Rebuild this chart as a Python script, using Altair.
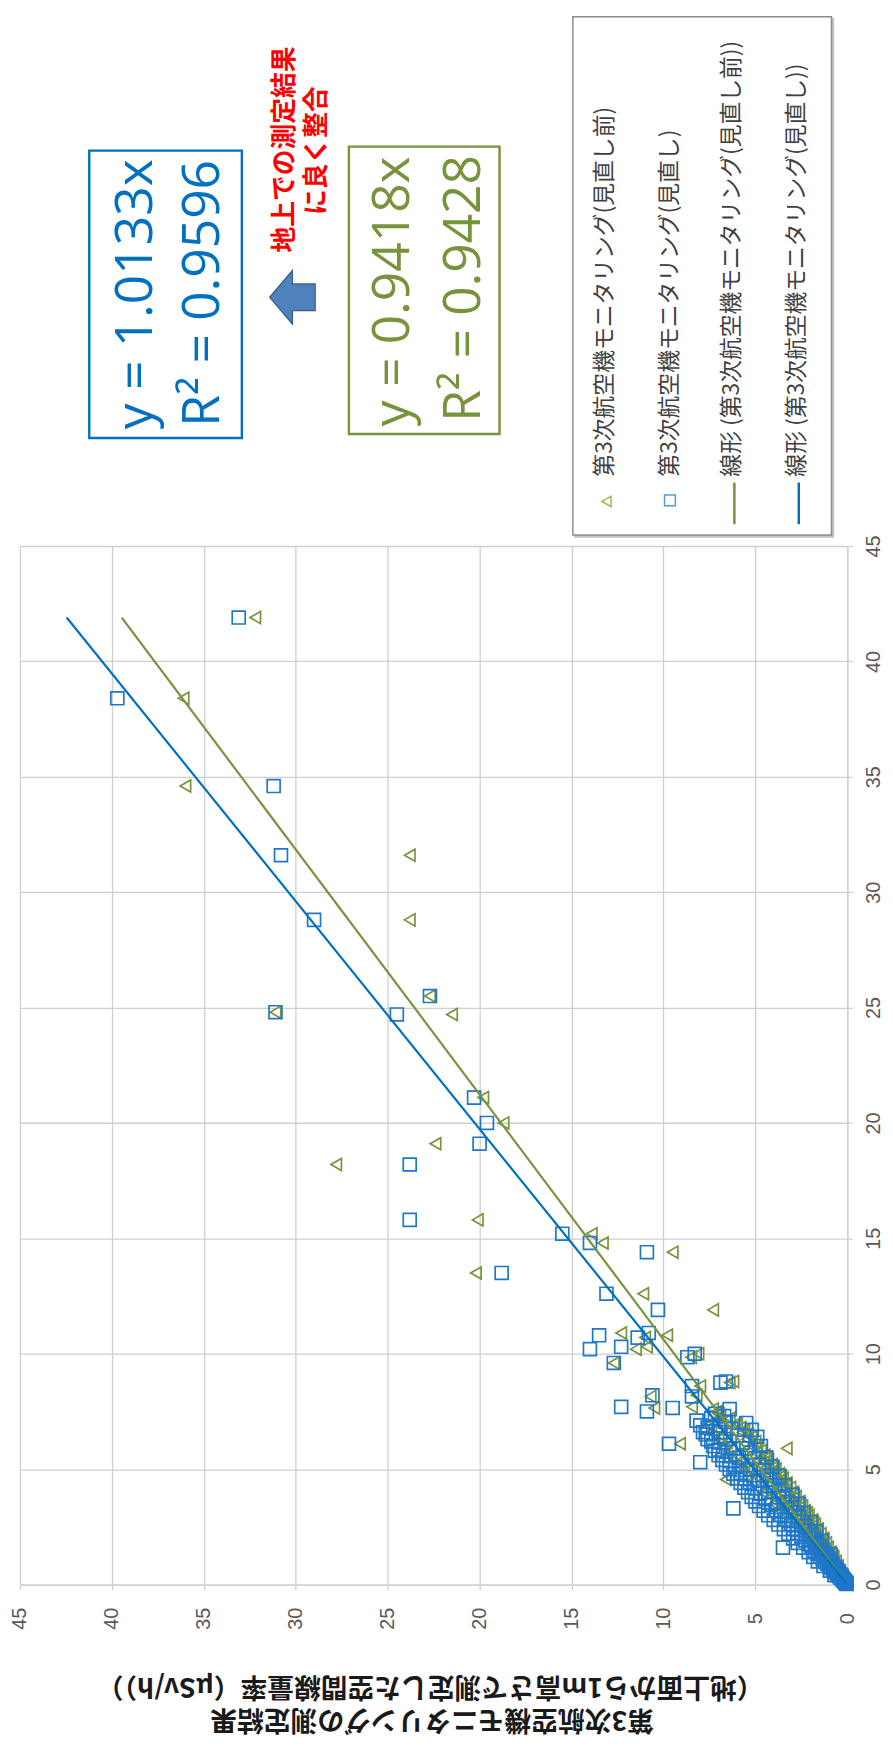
import altair as alt
import pandas as pd

# ---------------- data ----------------
# ground value (vertical scale, 0 at bottom) and aerial value (horizontal, 0 at right)
ground = [
    41.9, 38.4, 34.6, 31.6, 28.8, 25.5, 24.8, 24.7, 21.1, 20.0, 19.1, 18.2, 15.8,
    15.2, 14.8, 14.4, 13.5, 12.6, 11.9, 10.9, 10.8, 10.7, 10.3, 10.2, 10.0, 9.85,
    9.6, 8.8, 8.75, 8.6, 8.2, 8.15, 7.7, 7.65, 7.5,
    0.03, 0.05, 0.07, 0.09, 0.11, 0.13, 0.15, 0.17, 0.19, 0.21, 0.24, 0.27, 0.30,
    0.33, 0.36, 0.39, 0.42, 0.45, 0.48, 0.52, 0.56, 0.60, 0.64, 0.68, 0.72, 0.76,
    0.80, 0.85, 0.90, 0.95, 1.00, 1.05, 1.10, 1.16, 1.22, 1.28, 1.34, 1.40, 1.46,
    1.52, 1.60, 1.62, 1.68, 1.75, 1.82, 1.90, 1.98, 2.06, 2.15, 2.24, 2.33, 2.42,
    2.52, 2.62, 2.72, 2.82, 2.92, 3.02, 3.12, 3.22, 3.30, 3.34, 3.46, 3.58, 3.70,
    3.82, 3.94, 4.06, 4.18, 4.30, 4.42, 4.55, 4.60, 4.72, 4.84, 4.96, 5.08, 5.20,
    5.30, 5.36, 5.48, 5.60, 5.72, 5.85, 5.90, 6.00, 6.10, 6.15, 6.30, 6.45, 6.60,
    6.75, 6.90, 7.05, 7.20,
    0.4, 0.6, 0.8, 1.0, 1.2, 1.3, 1.4, 1.6, 1.8, 1.9, 2.0, 2.2, 2.3, 2.4, 2.6,
    2.7, 2.8, 3.0, 3.1, 3.2, 3.4, 3.5, 3.6, 3.8, 3.9, 4.0, 4.2, 4.3, 4.4, 4.6,
    4.7, 4.8, 5.0, 5.1, 5.2, 5.4, 5.5, 5.6, 5.8, 6.0, 6.2, 6.4, 6.5, 6.7, 6.8,
    7.0, 6.9, 6.6, 6.3, 5.9, 5.5, 5.0, 4.5, 4.0, 3.5, 7.3, 7.4, 7.6, 7.1,
]
aerial_revised = [
    33.1, 39.7, 31.2, 30.8, 29.0, 22.7, 31.1, 24.5, 20.3, 19.6, 20.0, 23.8, 23.8,
    15.5, 14.0, 10.9, 18.8, 13.1, 10.3, 10.8, 13.5, 11.4, 12.3, 14.0, 8.3, 8.7,
    12.7, 6.6, 6.9, 8.45, 10.6, 8.45, 12.3, 9.5, 10.9,
    0.04, 0.07, 0.06, 0.11, 0.13, 0.12, 0.19, 0.16, 0.24, 0.20, 0.29, 0.25, 0.37,
    0.30, 0.44, 0.36, 0.51, 0.40, 0.58, 0.47, 0.68, 0.55, 0.77, 0.62, 0.87, 0.70,
    0.98, 0.78, 1.10, 0.86, 1.22, 0.95, 1.34, 1.05, 1.48, 1.15, 1.62, 1.27, 1.77,
    1.38, 3.50, 1.95, 1.52, 2.10, 1.66, 2.28, 1.80, 2.50, 1.96, 2.72, 2.12, 2.95,
    2.30, 3.18, 2.48, 3.42, 2.66, 3.65, 2.85, 3.90, 6.20, 3.05, 4.15, 3.28, 4.45,
    3.50, 4.75, 3.72, 5.05, 3.95, 5.30, 4.20, 5.55, 4.35, 5.80, 4.55, 6.10, 4.80,
    8.00, 6.40, 5.05, 6.75, 5.30, 7.00, 5.50, 7.30, 9.70, 5.70, 7.60, 6.00, 7.85,
    6.30, 8.00, 6.60, 7.40,
    0.70, 0.95, 1.30, 1.60, 1.85, 0.90, 2.10, 2.40, 2.70, 1.40, 2.95, 3.20, 1.70,
    3.45, 3.75, 2.00, 4.00, 4.30, 2.40, 4.55, 4.80, 2.70, 5.00, 5.20, 3.00, 5.40,
    5.60, 3.40, 5.80, 6.00, 3.70, 6.20, 6.40, 4.10, 6.60, 6.80, 4.40, 7.00, 7.20,
    4.70, 7.40, 4.90, 7.70, 5.20, 7.60, 5.50, 7.00, 6.90, 6.60, 6.20, 5.90, 5.30,
    4.80, 4.30, 3.80, 6.70, 7.20, 6.40, 8.20,
]
aerial_before = [
    32.2, 36.1, 36.0, 23.8, 23.8, 22.7, 31.1, 21.5, 19.8, 18.7, 22.4, 27.8, 20.1,
    13.9, 13.3, 9.5, 20.2, 11.1, 7.3, 12.3, 9.8, 11.0, 10.9, 11.5, 8.1, 8.5,
    12.7, 6.2, 6.4, 8.0, 8.2, 10.7, 8.45, 10.5, 7.1,
    0.03, 0.04, 0.06, 0.08, 0.09, 0.12, 0.13, 0.15, 0.17, 0.22, 0.20, 0.27, 0.26,
    0.33, 0.31, 0.40, 0.36, 0.47, 0.41, 0.55, 0.48, 0.63, 0.55, 0.71, 0.62, 0.79,
    0.69, 0.90, 0.77, 1.02, 0.85, 1.12, 0.94, 1.24, 1.04, 1.38, 1.14, 1.50, 1.24,
    1.62, 1.36, 1.75, 1.44, 1.88, 1.55, 2.05, 1.68, 2.20, 1.85, 2.40, 2.00, 2.60,
    2.15, 2.82, 2.30, 3.05, 2.50, 3.25, 2.65, 3.45, 2.85, 3.60, 2.95, 3.85, 3.15,
    4.10, 3.40, 4.35, 3.60, 4.60, 3.80, 6.60, 4.00, 5.05, 4.15, 5.35, 4.40, 5.60,
    4.55, 5.80, 4.75, 6.05, 4.95, 6.30, 3.30, 5.20, 9.10, 6.55, 5.45, 6.85, 5.70,
    7.10, 6.00, 7.30, 6.40,
    0.25, 0.40, 0.50, 0.62, 0.75, 1.00, 0.90, 1.05, 1.15, 1.30, 1.30, 1.45, 1.60,
    1.60, 1.75, 1.85, 1.90, 2.10, 2.20, 2.30, 2.45, 2.55, 2.60, 2.80, 2.90, 2.95,
    3.10, 3.30, 3.30, 3.50, 3.60, 3.70, 3.90, 4.00, 4.10, 4.30, 4.40, 4.50, 4.70,
    4.90, 5.00, 5.20, 5.40, 5.60, 5.80, 6.00, 7.60, 7.40, 7.00, 6.70, 6.30, 5.80,
    5.20, 4.60, 4.00, 6.90, 7.00, 7.30, 6.60,
]
series_names = ["第3次航空機モニタリング(見直し前)", "第3次航空機モニタリング(見直し)"]
slope_before = 0.9418
slope_revised = 1.0133
r2_before = 0.9428
r2_revised = 0.9596
trend_ground = [0.0, max(ground)]
tick_values = list(range(0, 46, 5))

GREEN = "#77933C"
BLUE = "#0070C0"
GRID = "#CFCFCF"

pts = pd.DataFrame({
    "ground": ground * 2,
    "aerial": aerial_before + aerial_revised,
    "series": [series_names[0]] * len(ground) + [series_names[1]] * len(ground),
})
trend = pd.DataFrame({
    "ground": trend_ground * 2,
    "aerial": [g * slope_before for g in trend_ground] + [g * slope_revised for g in trend_ground],
    "series": ["before"] * 2 + ["revised"] * 2,
})

LABEL_FONT = "Liberation Sans Narrow, Liberation Sans, sans-serif"
xscale = alt.Scale(domain=[0, 45], reverse=True, nice=False, zero=False)
yscale = alt.Scale(domain=[0, 45], nice=False, zero=False)
common_axis = dict(values=tick_values, grid=True, gridColor=GRID, gridWidth=1.3,
                   domainColor=GRID, domainWidth=1.3, tickColor=GRID, tickWidth=1.3,
                   tickSize=5, labelAngle=270, labelAlign="center", labelBaseline="middle",
                   labelFontSize=20, labelColor="#595959", labelFont=LABEL_FONT,
                   labelOverlap=False)
X = alt.X("aerial:Q", scale=xscale, title=None,
          axis=alt.Axis(orient="bottom", labelPadding=29, **common_axis))
Y = alt.Y("ground:Q", scale=yscale, title=None,
          axis=alt.Axis(orient="right", labelPadding=21, **common_axis))

tri = alt.Chart(pts).transform_filter(alt.datum.series == series_names[0]).mark_point(
    shape="triangle-left", filled=False, size=150, strokeWidth=1.7, color=GREEN, opacity=1
).encode(x=X, y=Y)
sq = alt.Chart(pts).transform_filter(alt.datum.series == series_names[1]).mark_point(
    shape="square", filled=False, size=170, strokeWidth=1.7, color="#1F77C9", opacity=1
).encode(x=X, y=Y)
line_b = alt.Chart(trend).transform_filter(alt.datum.series == "before").mark_line(
    color=GREEN, strokeWidth=2.2).encode(x=X, y=Y)
line_r = alt.Chart(trend).transform_filter(alt.datum.series == "revised").mark_line(
    color=BLUE, strokeWidth=2.2).encode(x=X, y=Y)

one = pd.DataFrame({"k": [0]})
OX = 20   # page x of the plot's left edge
OY = 543  # page y of the plot's top edge


def rect(x, x2, y, y2, stroke, width=2.2, fill="white"):
    return alt.Chart(one).mark_rect(fill=fill, stroke=stroke, strokeWidth=width).encode(
        x=alt.value(x - OX), x2=alt.value(x2 - OX), y=alt.value(y - OY), y2=alt.value(y2 - OY))


def text(x, y, s, size, color, angle=270, align="center", weight="normal",
         font="Open Sans, Noto Sans CJK JP, sans-serif"):
    return alt.Chart(one).mark_text(angle=angle, align=align, baseline="middle",
                                    fontSize=size, color=color, fontWeight=weight,
                                    font=font).encode(
        x=alt.value(x - OX), y=alt.value(y - OY), text=alt.value(s))


def sym(x, y, shape, size, color, filled=False, **kw):
    return alt.Chart(one).mark_point(shape=shape, filled=filled, size=size, opacity=1,
                                     color=color, **kw).encode(
        x=alt.value(x - OX), y=alt.value(y - OY))


def vrule(x, y, y2, color):
    return alt.Chart(one).mark_rule(color=color, strokeWidth=2.5).encode(
        x=alt.value(x - OX), y=alt.value(y - OY), y2=alt.value(y2 - OY))


JP = "Noto Sans CJK JP, sans-serif"
annot = [
    # equation boxes (page coordinates)
    rect(90, 244, 144, 434, BLUE, 2.4),
    text(137, 289, f"y = {slope_revised}x", 52, BLUE),
    text(205, 288, f"R² = {r2_revised}", 52, BLUE),
    rect(352, 504, 140, 430, GREEN, 2.4),
    text(397, 286, f"y = {slope_before}x", 52, GREEN),
    text(468, 283, f"R² = {r2_before}", 52, GREEN),
    # red note
    text(288, 143, "地上での測定結果", 26, "#FF0000", weight="bold", font=JP),
    text(320, 144, "に良く整合", 26, "#FF0000", weight="bold", font=JP),
    # arrow
    sym(295, 292, "M-0.85,0L0,-1L0,-0.5L0.85,-0.5L0.85,0.5L0,0.5L0,1Z", 2916, "#4F81BD",
        filled=True, stroke="#385D8A", strokeWidth=1.3),
    # legend box
    rect(580, 841, 11, 534, "#C4C4C4", 1.5, "#C4C4C4"),
    rect(578, 839, 9, 532, "#8C8C8C", 1.5),
    text(611, 473, series_names[0], 23, "#404040", align="left", font=JP),
    text(676, 473, series_names[1], 23, "#404040", align="left", font=JP),
    text(739, 473, "線形 (" + series_names[0] + ")", 23, "#404040", align="left", font=JP),
    text(804, 473, "線形 (" + series_names[1] + ")", 23, "#404040", align="left", font=JP),
    sym(612, 498, "triangle-left", 110, "#9BBB59", strokeWidth=1.5),
    sym(676, 497, "square", 120, "#5B9BD5", strokeWidth=1.5),
    vrule(741, 479, 521, GREEN),
    vrule(806, 479, 521, BLUE),
    # upside-down axis title
    text(434, 1693, "（地上面から1m高さで測定した空間線量率（μSv/h））", 27, "#1A1A1A",
         angle=180, weight="bold", font=JP),
    text(436, 1727, "第3次航空機モニタリングの測定結果", 27, "#1A1A1A",
         angle=180, weight="bold", font=JP),
]

chart = alt.layer(tri, sq, line_b, line_r, *annot).properties(
    width=835, height=1048,
    autosize=alt.AutoSizeParams(type="none"),
    padding={"left": OX - 8, "top": OY - 8, "right": 38, "bottom": 151},
).configure_view(strokeWidth=0)

chart.save("out.html", embed_options={"renderer": "svg", "actions": False})
